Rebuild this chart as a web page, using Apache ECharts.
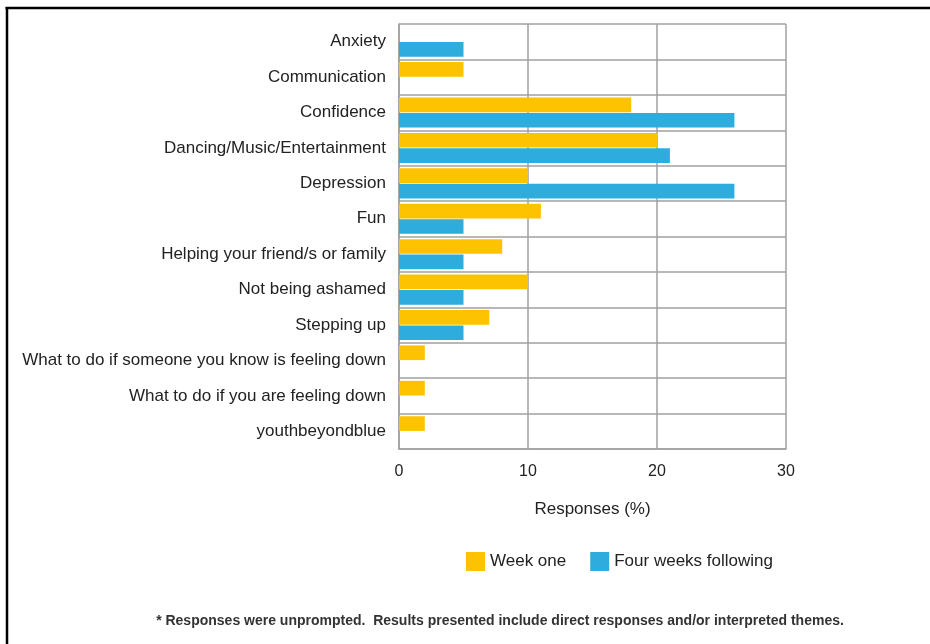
<!DOCTYPE html>
<html>
<head>
<meta charset="utf-8">
<script src="https://cdn.jsdelivr.net/npm/echarts@6/dist/echarts.min.js"></script>
<style>
html,body{margin:0;padding:0;background:#fff;}
#chart{width:930px;height:644px;}
</style>
</head>
<body>
<div id="chart"></div>
<script>
var categories = ["Anxiety","Communication","Confidence","Dancing/Music/Entertainment","Depression","Fun","Helping your friend/s or family","Not being ashamed","Stepping up","What to do if someone you know is feeling down","What to do if you are feeling down","youthbeyondblue"];
var weekOne = [0,5,18,20,10,11,8,10,7,2,2,2];
var fourWeeks = [5,0,26,21,26,5,5,5,5,0,0,0];
var xTicks = [0,10,20,30];
var seriesNames = ["Week one","Four weeks following"];
var footnote = "* Responses were unprompted.  Results presented include direct responses and/or interpreted themes.";

var chart = echarts.init(document.getElementById('chart'));
var font = 'Liberation Sans, Arial, sans-serif';
chart.setOption({
  animation:false,
  backgroundColor:'#fff',
  textStyle:{fontFamily:font},
  grid:{left:399,right:144,top:24,bottom:195,containLabel:false},
  legend:{
    data:seriesNames, left:461, top:547, itemWidth:19, itemHeight:19, itemGap:24,
    icon:'rect', textStyle:{fontSize:17,color:'#222',fontFamily:font}
  },
  xAxis:{
    type:'value', min:xTicks[0], max:xTicks[xTicks.length-1], interval:10,
    name:'Responses (%)', nameLocation:'middle', nameGap:52,
    nameTextStyle:{fontSize:17,color:'#222'},
    axisLine:{show:true,lineStyle:{color:'#a0a0a0',width:1.5}},
    axisTick:{show:false},
    axisLabel:{fontSize:16,color:'#222',margin:15},
    splitLine:{show:true,lineStyle:{color:'#a0a0a0',width:1.5}}
  },
  yAxis:{
    type:'category', data:categories, inverse:true,
    axisLine:{show:true,lineStyle:{color:'#a0a0a0',width:1.5}},
    axisTick:{show:false},
    axisLabel:{fontSize:17,color:'#222',margin:13},
    splitLine:{show:true,lineStyle:{color:'#a0a0a0',width:1.5}}
  },
  series:[
    {name:seriesNames[0],type:'bar',data:weekOne,barGap:'5%',barCategoryGap:'15%',
     itemStyle:{color:'#FDC300'}},
    {name:seriesNames[1],type:'bar',data:fourWeeks,barGap:'5%',barCategoryGap:'15%',
     itemStyle:{color:'#2EACDE'}}
  ],
  graphic:[
    {type:'line',shape:{x1:5.5,y1:8,x2:930,y2:8},style:{stroke:'#000',lineWidth:2.5}},
    {type:'line',shape:{x1:7,y1:7,x2:7,y2:644},style:{stroke:'#000',lineWidth:2.5}},
    {type:'text',x:500,y:621,style:{text:footnote,fontSize:14,fontWeight:'bold',fill:'#333',
      fontFamily:font,align:'center',verticalAlign:'middle'}}
  ]
});
</script>
</body>
</html>
